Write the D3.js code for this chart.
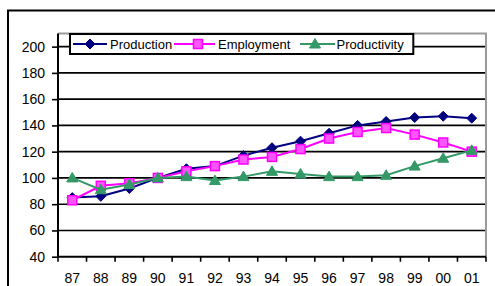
<!DOCTYPE html>
<html><head><meta charset="utf-8">
<script src="https://cdn.jsdelivr.net/npm/d3@7"></script>
<style>html,body{margin:0;padding:0;background:#fff;}svg{display:block;}</style>
</head><body>
<script>
const categories = ["87","88","89","90","91","92","93","94","95","96","97","98","99","00","01"];
const production = [85,86,92,100,107,109,117,123,128,134,140,143,146,147,145.5];
const employment = [83,94,96,100,105,109,114,116,122,130,135,138,133,127,120];
const productivity = [100,91,95,100,101,98,101,105,103,101,101,102,109,115,121];
const yTicks = [40,60,80,100,120,140,160,180,200];
const seriesNames = ["Production","Employment","Productivity"];

const W = 495, H = 286;
const svg = d3.select("body").append("svg").attr("width", W).attr("height", H);
const font = "'Liberation Sans', Arial, sans-serif";

// outer border
svg.append("path").attr("d", "M8,300 L8,10.5 L500,10.5").attr("fill","none").attr("stroke","#000").attr("stroke-width",2);

const L = 58, R = 486, T = 33.5, B = 256.7;
const x = d3.scaleBand().domain(categories).range([L, R]).padding(0);
const y = d3.scaleLinear().domain([40, 210]).range([B, T]);

// gridlines
svg.append("g").selectAll("line").data(yTicks.filter(v => v > 40)).join("line")
  .attr("x1", L).attr("x2", R).attr("y1", d => y(d)).attr("y2", d => y(d))
  .attr("stroke", "#000").attr("stroke-width", 1.6);

// frame top and right (gray)
svg.append("path").attr("d", `M${L},${T} L${R},${T} L${R},${B}`).attr("fill","none").attr("stroke","#9a9a9a").attr("stroke-width",2);

// y axis
const yAxis = d3.axisLeft(y).tickValues(yTicks).tickSize(6).tickPadding(7).tickSizeOuter(0);
const gy = svg.append("g").attr("transform", `translate(${L},0)`).call(yAxis);
gy.select(".domain").attr("stroke","#000").attr("stroke-width",2).attr("d", `M0,${T}V${B}`);
gy.selectAll(".tick line").attr("stroke","#000").attr("stroke-width",1.6);
gy.selectAll(".tick text").attr("font-family", font).attr("font-size", 14).attr("fill","#000");

// x axis: ticks between categories
const gx = svg.append("g").attr("transform", `translate(0,${B})`);
gx.append("line").attr("x1", L).attr("x2", R).attr("y1",0).attr("y2",0).attr("stroke","#000").attr("stroke-width",2);
const bounds = categories.map(c => x(c)).concat([x(categories[categories.length-1]) + x.bandwidth()]);
gx.selectAll("line.tk").data(bounds).join("line").attr("class","tk")
  .attr("x1", d => d).attr("x2", d => d).attr("y1", 0).attr("y2", 5)
  .attr("stroke","#000").attr("stroke-width",1.6);
gx.selectAll("text").data(categories).join("text")
  .attr("x", d => x(d) + x.bandwidth()/2).attr("y", 26.3)
  .attr("text-anchor","middle").attr("font-family", font).attr("font-size", 14).attr("fill","#000")
  .text(d => d);

const cx = c => x(c) + x.bandwidth()/2;
const colors = ["#000080", "#ff00ff", "#339966"];
const dataSets = [production, employment, productivity];

function marker(g, type, px, py, color) {
  if (type === 0) {
    g.append("path").attr("d", `M${px},${py-5} L${px+5},${py} L${px},${py+5} L${px-5},${py} Z`).attr("fill", color).attr("stroke", color).attr("stroke-width",1);
  } else if (type === 1) {
    g.append("rect").attr("x", px-4.5).attr("y", py-4.5).attr("width",9).attr("height",9).attr("fill","#ff55ff").attr("stroke",color).attr("stroke-width",1.5);
  } else {
    g.append("path").attr("d", `M${px},${py-5.5} L${px+5.5},${py+4} L${px-5.5},${py+4} Z`).attr("fill", color).attr("stroke", color).attr("stroke-width",1);
  }
}

const line = d3.line().x((d,i) => cx(categories[i])).y(d => y(d));
dataSets.forEach((ds, k) => {
  const g = svg.append("g");
  g.append("path").datum(ds).attr("d", line).attr("fill","none").attr("stroke", colors[k]).attr("stroke-width", 2);
  ds.forEach((v, i) => marker(g, k, cx(categories[i]), y(v), colors[k]));
});

// legend
const lg = svg.append("g");
lg.append("rect").attr("x",70).attr("y",34).attr("width",343.3).attr("height",20).attr("fill","#fff").attr("stroke","#000").attr("stroke-width",2);
const legendPos = [
  {x1:73, x2:107, m:90, t:110},
  {x1:174, x2:215, m:198, t:218},
  {x1:300, x2:335, m:315, t:336.5}
];
seriesNames.forEach((n, k) => {
  const p = legendPos[k];
  lg.append("line").attr("x1",p.x1).attr("x2",p.x2).attr("y1",44).attr("y2",44).attr("stroke",colors[k]).attr("stroke-width",2);
  marker(lg, k, p.m, 44, colors[k]);
  lg.append("text").attr("x", p.t).attr("y", 48.7).attr("font-family", font).attr("font-size", 13).attr("fill","#000").text(n);
});
</script>
</body></html>
